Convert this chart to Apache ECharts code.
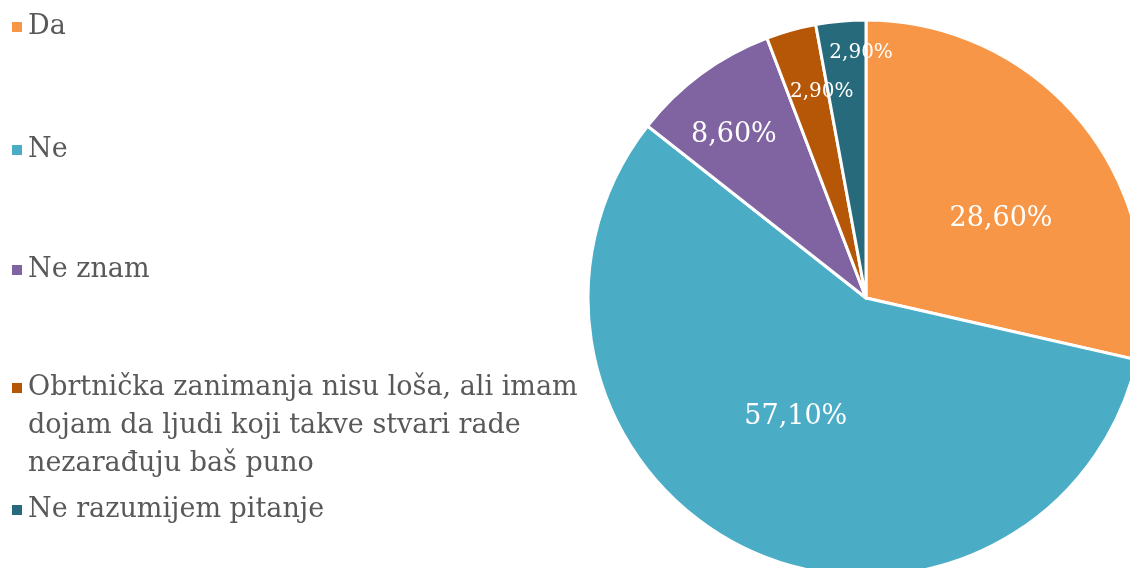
<!DOCTYPE html>
<html>
<head>
<meta charset="utf-8">
<script src="https://cdn.jsdelivr.net/npm/echarts@6/dist/echarts.min.js"></script>
<style>
html,body{margin:0;padding:0;background:#fff;}
#chartDom{width:1130px;height:568px;}
</style>
</head>
<body>
<div id="chartDom"></div>
<script>
// podaci
var categories = ['Da', 'Ne', 'Ne znam', 'Obrtnička zanimanja nisu loša, ali imam\ndojam da ljudi koji takve stvari rade\nnezarađuju baš puno', 'Ne razumijem pitanje'];
var values = [28.6, 57.1, 8.6, 2.9, 2.9];
var colors = ['#F79646', '#4BACC6', '#8064A2', '#B65708', '#276A7C'];

// pomak oznaka (kao u excelu)
var labelShift = [[24, 10], [-9, -9], [-48, -49], [-6, -69], [8, -104]];
var labelSize = [27, 27, 27, 20, 20];
var legendTop = [8, 131, 251, 369, 491];

var fontFam = '"DejaVu Serif", serif';

var chartDom = document.getElementById('chartDom');
var myChart = echarts.init(chartDom);

var legends = categories.map(function (name, i) {
  var multi = name.indexOf('\n') >= 0;
  return {
    data: [name],
    left: 10,
    top: legendTop[i],
    padding: 0,
    orient: 'vertical',
    // za tekst u vise redova kvadratic ide uz prvi red
    icon: multi ? 'path://M0,0h12v12h-12z M0,88 L0,88' : 'rect',
    itemWidth: 12,
    itemHeight: multi ? 88 : 12,
    selectedMode: false,
    textStyle: {
      color: '#595959',
      fontFamily: fontFam,
      fontSize: 27,
      lineHeight: 38
    }
  };
});

var option = {
  animation: false,
  color: colors,
  legend: legends,
  series: [
    {
      type: 'pie',
      center: [866, 298],
      radius: 278,
      startAngle: 90,
      clockwise: true,
      avoidLabelOverlap: false,
      itemStyle: {
        borderColor: '#fff',
        borderWidth: 3
      },
      label: {
        show: true,
        position: 'inside',
        color: '#fff',
        fontFamily: fontFam,
        formatter: function (p) {
          return p.value.toFixed(2).replace('.', ',') + '%';
        }
      },
      labelLayout: function (p) {
        var s = labelShift[p.dataIndex];
        return { dx: s[0], dy: s[1] };
      },
      data: categories.map(function (c, i) {
        return {
          name: c,
          value: values[i],
          label: { fontSize: labelSize[i] }
        };
      })
    }
  ]
};
option && myChart.setOption(option);
</script>
</body>
</html>
